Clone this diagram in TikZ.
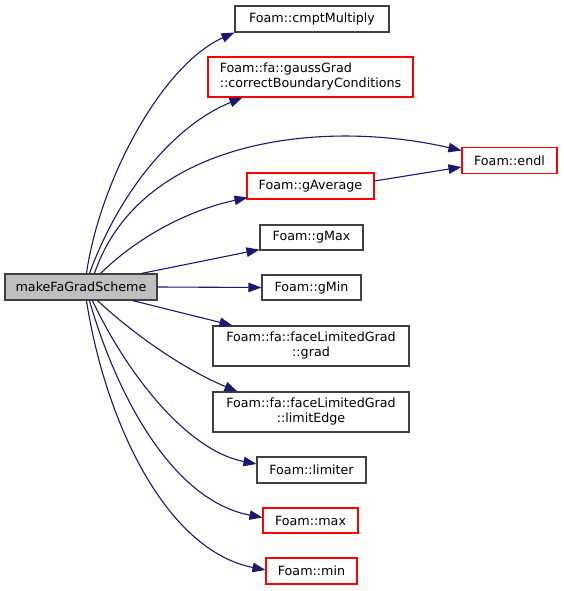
\documentclass[tikz,border=0pt]{standalone}
\usepackage{fontspec}
\setmainfont{DejaVu Sans}
\usetikzlibrary{arrows.meta,calc}
\definecolor{edgecol}{HTML}{191970}
\definecolor{bordergray}{HTML}{404040}
\definecolor{mainfill}{HTML}{BFBFBF}
\begin{document}
\begin{tikzpicture}[x=1pt,y=-1pt,
  box/.style={draw=bordergray,line width=1.1pt,fill=white,inner sep=0pt,rectangle,
    font=\fontsize{12.7}{15}\selectfont},
  redbox/.style={box,draw=red},
  mainbox/.style={box,fill=mainfill},
  edge/.style={draw=edgecol,line width=1.1pt,-{Triangle[length=13pt,width=9.5pt]}}]
\useasboundingbox (0,0) rectangle (563,591);
\fill[white] (0,0) rectangle (563,591);

\node[mainbox,minimum width=152pt,minimum height=26pt] (main) at (81,287) {makeFaGradScheme};
\node[box,minimum width=154pt,minimum height=26pt] (cmpt) at (312,19) {Foam::cmptMultiply};
\node[redbox,minimum width=205pt,minimum height=40pt] (gauss) at (310.5,77)
  {\begin{tabular}{@{}l@{}}Foam::fa::gaussGrad\\::correctBoundaryConditions\end{tabular}};
\node[redbox,minimum width=95pt,minimum height=26pt] (endl) at (509.5,160.5) {Foam::endl};
\node[redbox,minimum width=127pt,minimum height=26pt] (gAverage) at (310.5,186) {Foam::gAverage};
\node[box,minimum width=103pt,minimum height=25pt] (gMax) at (311.5,237.5) {Foam::gMax};
\node[box,minimum width=99pt,minimum height=25pt] (gMin) at (311.5,287.5) {Foam::gMin};
\node[box,minimum width=196pt,minimum height=40pt] (grad) at (311,346)
  {\begin{tabular}{@{}c@{}}Foam::fa::faceLimitedGrad\\::grad\end{tabular}};
\node[box,minimum width=196pt,minimum height=40pt] (limitEdge) at (311,412)
  {\begin{tabular}{@{}c@{}}Foam::fa::faceLimitedGrad\\::limitEdge\end{tabular}};
\node[box,minimum width=109pt,minimum height=26pt] (limiter) at (311.5,470) {Foam::limiter};
\node[redbox,minimum width=95pt,minimum height=25pt] (max) at (310.5,520.5) {Foam::max};
\node[redbox,minimum width=91pt,minimum height=26pt] (min) at (311.5,571) {Foam::min};

\draw[edge] ($(main.north west)+(82,0)$) .. controls (100,180) and (162,65) .. (cmpt.south west);
\draw[edge] ($(main.north west)+(85,0)$) .. controls (120,190) and (175,125) .. ($(gauss.south west)+(35,0)$);
\draw[edge] ($(main.north west)+(90,0)$) .. controls (140,140) and (320,118) .. ($(endl.west)+(0,-10)$);
\draw[edge] ($(main.north west)+(96,0)$) .. controls (140,235) and (190,210) .. ($(gAverage.south west)+(1,-2)$);
\draw[edge] ($(gAverage.east)+(0,-5)$) -- ($(endl.west)+(0,6.5)$);
\draw[edge] ($(main.north west)+(137,0)$) -- ($(gMax.south west)+(0,-1)$);
\draw[edge] (main.east) -- (gMin.west);
\draw[edge] ($(main.south west)+(128,0)$) -- ($(grad.north west)+(20,0)$);
\draw[edge] ($(main.south west)+(93,0)$) .. controls (140,340) and (190,372) .. ($(limitEdge.north west)+(25,0)$);
\draw[edge] ($(main.south west)+(88,0)$) .. controls (125,370) and (185,450) .. ($(limiter.west)+(0,-6)$);
\draw[edge] ($(main.south west)+(85,0)$) .. controls (115,390) and (170,500) .. ($(max.west)+(0,-3)$);
\draw[edge] ($(main.south west)+(82,0)$) .. controls (105,420) and (165,550) .. ($(min.west)+(0,-1)$);
\end{tikzpicture}
\end{document}
